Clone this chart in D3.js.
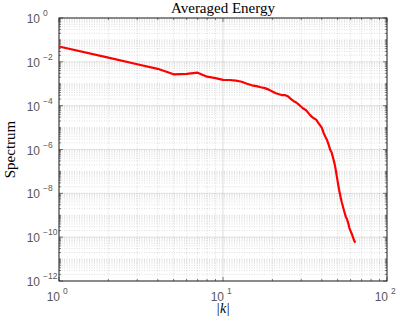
<!DOCTYPE html>
<html>
<head>
<meta charset="utf-8">
<script src="https://cdn.jsdelivr.net/npm/d3@7"></script>
<style>
  html, body { margin: 0; padding: 0; background: #fff; overflow: hidden; }
  svg { display: block; }
</style>
</head>
<body>
<script>
// Wavenumbers |k| and averaged energy spectrum
const wavenumbers = d3.range(1, 65);
const spectrum = [
  5.0e-2, 1.55e-2, 7.8e-3, 4.8e-3, 2.7e-3, 2.8e-3, 3.2e-3, 2.1e-3, 1.8e-3, 1.5e-3,
  1.48e-3, 1.38e-3, 1.23e-3, 1.0e-3, 8.5e-4, 7.8e-4, 6.9e-4, 6.3e-4, 5.4e-4, 4.4e-4,
  3.7e-4, 3.3e-4, 3.0e-4, 3.0e-4, 2.6e-4, 2.0e-4, 1.6e-4, 1.4e-4, 1.12e-4, 8.9e-5,
  7.2e-5, 6.3e-5, 4.8e-5, 3.7e-5, 3.0e-5, 2.6e-5, 2.3e-5, 1.7e-5, 1.3e-5, 1.0e-5,
  5.9e-6, 3.9e-6, 2.8e-6, 1.7e-6, 1.0e-6, 7.2e-7, 3.9e-7, 2.1e-7, 8.9e-8, 3.5e-8,
  1.5e-8, 7.2e-9, 3.9e-9, 2.3e-9, 1.4e-9, 8.9e-10, 6.6e-10, 4.4e-10, 2.6e-10, 1.9e-10,
  1.4e-10, 1.0e-10, 7.2e-11, 5.6e-11
];
const xTickExps = [0, 1, 2];
const yTickExps = [0, -2, -4, -6, -8, -10, -12];

const width = 399, height = 322;
const margin = { top: 18, right: 12, bottom: 41, left: 59 };
const innerWidth = width - margin.left - margin.right;
const innerHeight = height - margin.top - margin.bottom;

const svg = d3.select("body").append("svg")
  .attr("width", width).attr("height", height);

// scales in page coordinates
const x = d3.scaleLog().domain([1, 100]).range([margin.left, margin.left + innerWidth]);
const y = d3.scaleLog().domain([1e-12, 1]).range([margin.top + innerHeight, margin.top]);
const x0 = margin.left, x1 = margin.left + innerWidth;
const y0 = margin.top, y1 = margin.top + innerHeight;

// minor values for grid / ticks
const xMinor = [];
for (let d = 0; d < 2; d++) for (let m = 2; m <= 9; m++) xMinor.push(m * Math.pow(10, d));
const yMinor = [];
for (let d = -12; d < 0; d++) {
  for (let m = 1; m <= 9; m++) {
    if (m === 1 && d % 2 === 0) continue;
    yMinor.push(m * Math.pow(10, d));
  }
}
const xMajor = xTickExps.map(e => Math.pow(10, e));
const yMajor = yTickExps.map(e => Math.pow(10, e));

// minor grid (dotted)
svg.append("g").selectAll("line").data(xMinor).join("line")
  .attr("x1", d => x(d)).attr("x2", d => x(d))
  .attr("y1", y0).attr("y2", y1)
  .attr("stroke", "rgba(38,38,38,0.3)").attr("stroke-width", 0.5)
  .attr("stroke-dasharray", "1,1.5");
svg.append("g").selectAll("line").data(yMinor).join("line")
  .attr("x1", x0).attr("x2", x1)
  .attr("y1", d => y(d)).attr("y2", d => y(d))
  .attr("stroke", "rgba(38,38,38,0.3)").attr("stroke-width", 0.5)
  .attr("stroke-dasharray", "1,1.5");

// major grid
svg.append("g").selectAll("line").data(xMajor).join("line")
  .attr("x1", d => x(d)).attr("x2", d => x(d))
  .attr("y1", y0).attr("y2", y1)
  .attr("stroke", "rgba(38,38,38,0.15)").attr("stroke-width", 1);
svg.append("g").selectAll("line").data(yMajor).join("line")
  .attr("x1", x0).attr("x2", x1)
  .attr("y1", d => y(d)).attr("y2", d => y(d))
  .attr("stroke", "rgba(38,38,38,0.15)").attr("stroke-width", 1);

// inward ticks on all four sides
const axisColor = "#262626";
function addXTicks(values, len) {
  values.forEach(v => {
    svg.append("line").attr("x1", x(v)).attr("x2", x(v))
      .attr("y1", y1).attr("y2", y1 - len)
      .attr("stroke", axisColor).attr("stroke-width", 0.6);
    svg.append("line").attr("x1", x(v)).attr("x2", x(v))
      .attr("y1", y0).attr("y2", y0 + len)
      .attr("stroke", axisColor).attr("stroke-width", 0.6);
  });
}
addXTicks(xMajor, 4);
addXTicks(xMinor, 2);
function addYTicks(values, len) {
  values.forEach(v => {
    svg.append("line").attr("x1", x0).attr("x2", x0 + len)
      .attr("y1", y(v)).attr("y2", y(v))
      .attr("stroke", axisColor).attr("stroke-width", 0.6);
    svg.append("line").attr("x1", x1).attr("x2", x1 - len)
      .attr("y1", y(v)).attr("y2", y(v))
      .attr("stroke", axisColor).attr("stroke-width", 0.6);
  });
}
addYTicks(yMajor, 4);
addYTicks(yMinor, 2);

// box
svg.append("rect")
  .attr("x", x0).attr("y", y0)
  .attr("width", innerWidth).attr("height", innerHeight)
  .attr("fill", "none").attr("stroke", axisColor).attr("stroke-width", 1);

// spectrum line
const line = d3.line()
  .x((d, i) => x(wavenumbers[i]))
  .y(d => y(d));
svg.append("path")
  .datum(spectrum)
  .attr("fill", "none")
  .attr("stroke", "#ff0000")
  .attr("stroke-width", 2.2)
  .attr("stroke-linejoin", "round")
  .attr("d", line);

// tick labels: "10" plus a raised exponent, as separate texts
const labelFont = "'Liberation Sans', Arial, sans-serif";
const labelColor = "#595959";
function powerLabel(xPos, yPos, exp) {
  svg.append("text")
    .attr("x", xPos).attr("y", yPos)
    .attr("text-anchor", "end")
    .attr("font-family", labelFont).attr("font-size", 12)
    .attr("fill", labelColor)
    .text("10");
  svg.append("text")
    .attr("x", xPos + 3).attr("y", yPos - 7)
    .attr("text-anchor", "start")
    .attr("font-family", labelFont).attr("font-size", 8.5)
    .attr("fill", labelColor)
    .text(exp);
}
xTickExps.forEach(e => powerLabel(x(Math.pow(10, e)) + 1, y1 + 20, String(e)));
yTickExps.forEach(e => powerLabel(x0 - 19, y(Math.pow(10, e)) + 5, e === 0 ? "0" : "\u2212" + (-e)));

// title and axis labels
const serif = "'Liberation Serif', 'DejaVu Serif', serif";
svg.append("text")
  .attr("x", (x0 + x1) / 2)
  .attr("y", 13)
  .attr("text-anchor", "middle")
  .attr("font-family", serif)
  .attr("font-size", 15)
  .attr("fill", "#000")
  .text("Averaged Energy");

svg.append("text")
  .attr("transform", `translate(15,${(y0 + y1) / 2}) rotate(-90)`)
  .attr("text-anchor", "middle")
  .attr("font-family", serif)
  .attr("font-size", 15)
  .attr("fill", "#000")
  .text("Spectrum");

svg.append("text")
  .attr("x", (x0 + x1) / 2)
  .attr("y", 313)
  .attr("text-anchor", "middle")
  .attr("font-family", serif)
  .attr("font-size", 14)
  .attr("font-style", "italic")
  .attr("fill", "#000")
  .text("|k|");
</script>
</body>
</html>
